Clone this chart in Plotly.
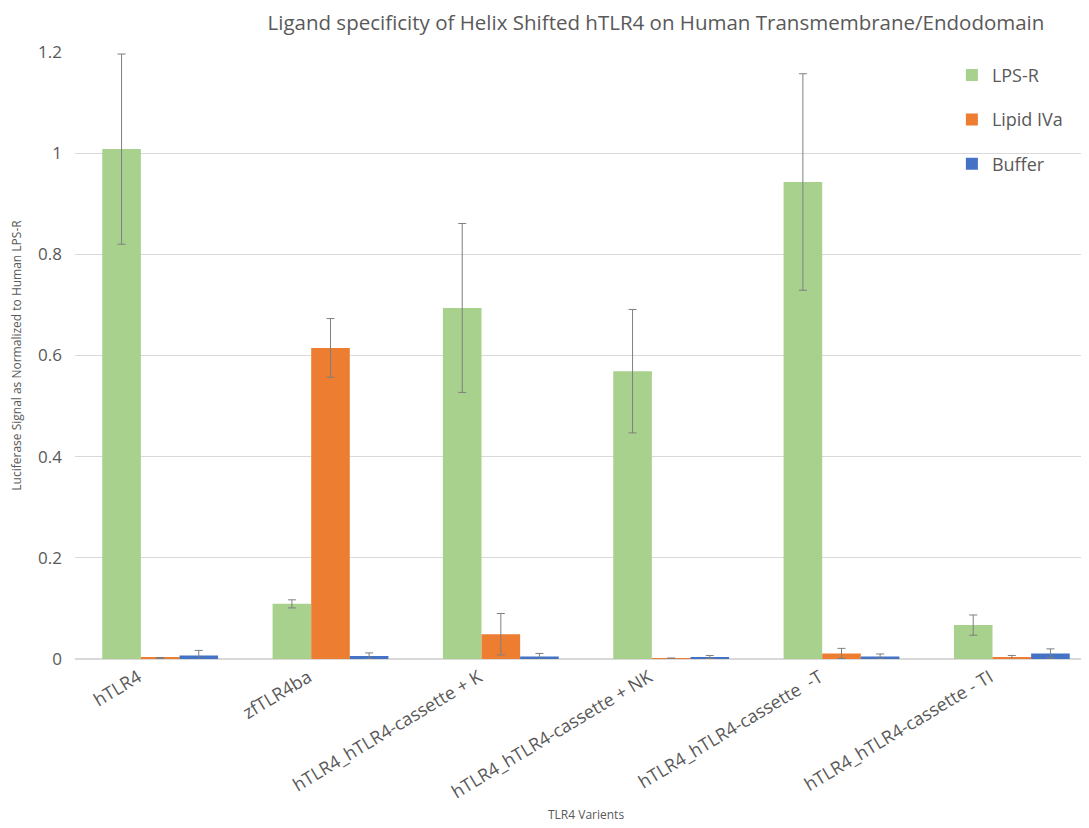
import plotly.graph_objects as go

categories = ["hTLR4", "zfTLR4ba", "hTLR4_hTLR4-cassette + K", "hTLR4_hTLR4-cassette + NK",
              "hTLR4_hTLR4-cassette  -T", "hTLR4_hTLR4-cassette - TI"]
lps_r = [1.008, 0.109, 0.694, 0.569, 0.943, 0.067]
lps_r_err = [0.188, 0.008, 0.167, 0.122, 0.214, 0.020]
lipid_iva = [0.002, 0.615, 0.049, 0.001, 0.011, 0.003]
lipid_iva_err = [0.001, 0.058, 0.041, 0.001, 0.010, 0.004]
buffer = [0.007, 0.006, 0.005, 0.004, 0.005, 0.011]
buffer_err = [0.010, 0.006, 0.006, 0.003, 0.005, 0.009]

series = [
    ("LPS-R", lps_r, lps_r_err, "#A9D18E"),
    ("Lipid IVa", lipid_iva, lipid_iva_err, "#ED7D31"),
    ("Buffer", buffer, buffer_err, "#4472C4"),
]

fig = go.Figure()
for i, (name, vals, errs, color) in enumerate(series):
    fig.add_trace(go.Bar(
        x=categories, y=vals, name=name, marker_color=color, marker_line_width=0,
        legendgroup=str(i),
        error_y=dict(type="data", array=errs, visible=True, color="#7f7f7f", thickness=1, width=4),
    ))

fig.update_layout(
    width=1089, height=828,
    paper_bgcolor="white", plot_bgcolor="white",
    margin=dict(l=67, r=0, t=44, b=177, autoexpand=False),
    barmode="group", bargap=0.32, bargroupgap=0,
    font=dict(family="Open Sans, Liberation Sans, sans-serif", color="#595959"),
    title=dict(text="Ligand specificity of Helix Shifted hTLR4 on Human Transmembrane/Endodomain",
               x=0.595, xanchor="center", y=0.982, yanchor="middle",
               font=dict(size=20.5, color="#595959")),
    legend=dict(x=0.858, y=0.992, xanchor="left", yanchor="top", bgcolor="rgba(0,0,0,0)",
                font=dict(size=18, color="#595959"), tracegroupgap=18),
    xaxis=dict(tickangle=-31, tickfont=dict(size=18, color="#595959"),
               showline=True, linecolor="#d9d9d9", ticks="",
               ticklabelshift=-22),
    yaxis=dict(range=[0, 1.2], dtick=0.2, tickformat="~g", showgrid=True, gridcolor="#d9d9d9",
               zeroline=True, zerolinecolor="#d9d9d9", tickfont=dict(size=17, color="#595959"),
               ticklabelstandoff=12,
               title=dict(text="Luciferase Signal as Normalized to Human LPS-R",
                          font=dict(size=12, color="#595959"), standoff=14)),
    annotations=[dict(text="TLR4 Varients", xref="paper", yref="paper", x=0.5, y=-0.257,
                      xanchor="center", yanchor="middle", showarrow=False,
                      font=dict(size=12, color="#595959"))],
)

fig.write_html("out.html")
